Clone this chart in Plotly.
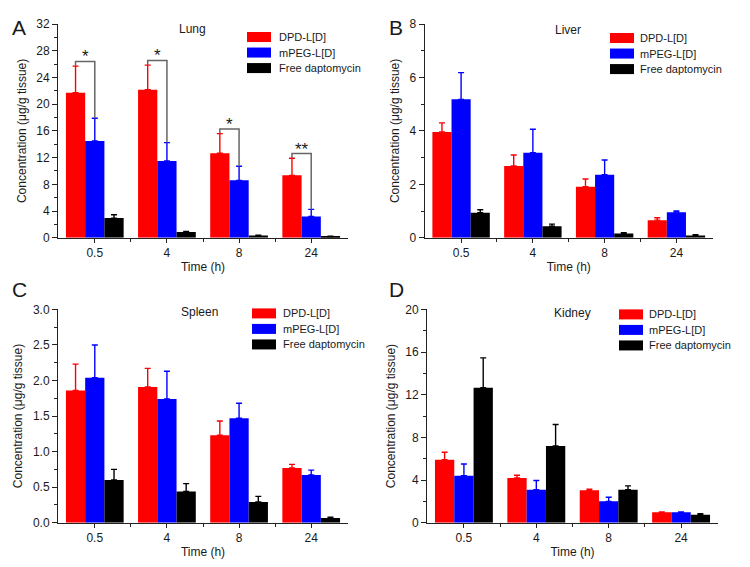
import plotly.graph_objects as go

# ---------------- data ----------------
times = ["0.5", "4", "8", "24"]
series_names = ["DPD-L[D]", "mPEG-L[D]", "Free daptomycin"]
series_colors = ["#ff0000", "#0000ff", "#000000"]

lung_dpd = [21.7, 22.15, 12.65, 9.35]
lung_dpd_err = [4.0, 3.7, 2.95, 2.55]
lung_mpeg = [14.5, 11.5, 8.6, 3.2]
lung_mpeg_err = [3.4, 2.75, 2.1, 1.05]
lung_free = [2.95, 0.85, 0.35, 0.2]
lung_free_err = [0.5, 0.1, 0.05, 0.03]
lung_sig = ["*", "*", "*", "**"]

liver_dpd = [3.96, 2.69, 1.91, 0.66]
liver_dpd_err = [0.34, 0.41, 0.29, 0.09]
liver_mpeg = [5.18, 3.18, 2.36, 0.96]
liver_mpeg_err = [1.0, 0.88, 0.55, 0.04]
liver_free = [0.94, 0.43, 0.16, 0.09]
liver_free_err = [0.11, 0.08, 0.03, 0.03]

spleen_dpd = [1.86, 1.91, 1.23, 0.77]
spleen_dpd_err = [0.37, 0.26, 0.2, 0.05]
spleen_mpeg = [2.04, 1.74, 1.47, 0.67]
spleen_mpeg_err = [0.46, 0.39, 0.21, 0.07]
spleen_free = [0.60, 0.44, 0.29, 0.066]
spleen_free_err = [0.15, 0.11, 0.08, 0.01]

kidney_dpd = [5.9, 4.2, 3.03, 0.97]
kidney_dpd_err = [0.7, 0.25, 0.12, 0.03]
kidney_mpeg = [4.4, 3.1, 2.0, 0.97]
kidney_mpeg_err = [1.1, 0.85, 0.38, 0.03]
kidney_free = [12.65, 7.2, 3.1, 0.75]
kidney_free_err = [2.8, 2.0, 0.35, 0.1]

# ---------------- layout helpers ----------------
# map target picture pixels to figure pixels (page margins / capture scaling)
OFFX, OFFY, SY = 8, 15, 0.974
W, H = 742, 567
FONT = "Arial, Liberation Sans, sans-serif"
TXT = "#1a1a1a"


def px(x):
    return (x - OFFX) / W


def py(y):
    return 1 - ((y - OFFY) / SY) / H


panels = [
    dict(organ="Lung", letter="A",
         vals=[lung_dpd, lung_mpeg, lung_free],
         errs=[lung_dpd_err, lung_mpeg_err, lung_free_err],
         ymax=32, dtick=4, mdtick=2, fmt="d",
         xd=(58, 348), yd=(24, 237.5), letter_xy=(19, 27), title_xy=(192, 29),
         leg=(247, 37, 277), sig=lung_sig),
    dict(organ="Liver", letter="B",
         vals=[liver_dpd, liver_mpeg, liver_free],
         errs=[liver_dpd_err, liver_mpeg_err, liver_free_err],
         ymax=8, dtick=2, mdtick=1, fmt="d",
         xd=(424.5, 713), yd=(24, 237.5), letter_xy=(396, 27), title_xy=(568, 30),
         leg=(610, 38, 638), sig=None),
    dict(organ="Spleen", letter="C",
         vals=[spleen_dpd, spleen_mpeg, spleen_free],
         errs=[spleen_dpd_err, spleen_mpeg_err, spleen_free_err],
         ymax=3, dtick=0.5, mdtick=0.25, fmt=".1f",
         xd=(58, 348), yd=(309, 522), letter_xy=(19, 289), title_xy=(199, 312),
         leg=(252, 313, 281), sig=None),
    dict(organ="Kidney", letter="D",
         vals=[kidney_dpd, kidney_mpeg, kidney_free],
         errs=[kidney_dpd_err, kidney_mpeg_err, kidney_free_err],
         ymax=20, dtick=4, mdtick=2, fmt="d",
         xd=(427, 718), yd=(309, 522), letter_xy=(396, 289), title_xy=(572, 313),
         leg=(619, 314, 647), sig=None),
]

fig = go.Figure()
shapes = []
annotations = []
xpos = list(range(len(times)))
BARGAP = 0.2
bw = (1 - BARGAP) / len(series_names)

for k, p in enumerate(panels):
    sfx = "" if k == 0 else str(k + 1)
    xa, ya = "x" + sfx, "y" + sfx
    for s, name in enumerate(series_names):
        fig.add_trace(go.Bar(
            x=xpos, y=p["vals"][s], name=name,
            marker=dict(color=series_colors[s], line=dict(width=0)),
            error_y=dict(type="data", array=p["errs"][s], symmetric=False,
                         arrayminus=[0] * len(times), color=series_colors[s],
                         thickness=1.4, width=3),
            xaxis=xa, yaxis=ya, showlegend=False,
        ))
    axis_common = dict(showline=True, linecolor="#222", linewidth=1, mirror=False,
                       showgrid=False, zeroline=False, ticks="outside",
                       tickcolor="#222", tickwidth=1,
                       tickfont=dict(family=FONT, size=12, color=TXT))
    fig.update_layout(**{
        "xaxis" + sfx: dict(axis_common,
                            domain=[px(p["xd"][0]), px(p["xd"][1])],
                            anchor=ya, range=[-0.51, len(times) - 0.49],
                            tickmode="array", tickvals=xpos, ticktext=times, ticklen=4,
                            minor=dict(tickmode="array",
                                       tickvals=[i + 0.5 for i in xpos[:-1]],
                                       ticklen=3, ticks="outside", tickcolor="#222"),
                            title=dict(text="Time (h)", standoff=3,
                                       font=dict(family=FONT, size=12, color=TXT))),
        "yaxis" + sfx: dict(axis_common,
                            domain=[py(p["yd"][1]), py(p["yd"][0])],
                            anchor=xa, range=[0, p["ymax"]],
                            dtick=p["dtick"], tick0=0, tickformat=p["fmt"], ticklen=5,
                            minor=dict(dtick=p["mdtick"], ticklen=3, ticks="outside",
                                       tickcolor="#222"),
                            title=dict(text="Concentration (μg/g tissue)", standoff=7,
                                       font=dict(family=FONT, size=12, color=TXT))),
    })
    # panel letter and organ title
    annotations.append(dict(text=p["letter"], x=px(p["letter_xy"][0]), y=py(p["letter_xy"][1]),
                            xref="paper", yref="paper", showarrow=False,
                            xanchor="center", yanchor="middle",
                            font=dict(family=FONT, size=21, color=TXT)))
    annotations.append(dict(text=p["organ"], x=px(p["title_xy"][0]), y=py(p["title_xy"][1]),
                            xref="paper", yref="paper", showarrow=False,
                            xanchor="center", yanchor="middle",
                            font=dict(family=FONT, size=12, color=TXT)))
    # manual legend
    lx, ly, tx = p["leg"]
    for s, name in enumerate(series_names):
        yc = ly + s * 15.5
        shapes.append(dict(type="rect", xref="paper", yref="paper",
                           x0=px(lx), x1=px(lx + 24), y0=py(yc + 5), y1=py(yc - 5),
                           fillcolor=series_colors[s], line=dict(width=0)))
        annotations.append(dict(text=name, x=px(tx), y=py(yc), xref="paper", yref="paper",
                                showarrow=False, xanchor="left", yanchor="middle",
                                font=dict(family=FONT, size=11, color=TXT)))
    # significance brackets
    if p["sig"]:
        d, m = p["vals"][0], p["vals"][1]
        de, me = p["errs"][0], p["errs"][1]
        for i, mark in enumerate(p["sig"]):
            red_top = d[i] + de[i]
            blue_top = m[i] + me[i]
            h = max(red_top, blue_top) + 0.7
            xr = xpos[i] - bw
            xb = xpos[i]
            shapes.append(dict(type="path", xref=xa, yref=ya,
                               path=f"M {xr},{red_top} L {xr},{h} L {xb},{h} L {xb},{blue_top}",
                               line=dict(color="#666666", width=1.5)))
            annotations.append(dict(text=mark, x=(xr + xb) / 2, y=h, xref=xa, yref=ya,
                                    showarrow=False, xanchor="center", yanchor="bottom",
                                    yshift=-7,
                                    font=dict(family=FONT, size=17, color=TXT)))

fig.update_layout(
    width=W, height=H,
    margin=dict(l=0, r=0, t=0, b=0),
    paper_bgcolor="white", plot_bgcolor="white",
    barmode="group", bargap=BARGAP, bargroupgap=0,
    shapes=shapes, annotations=annotations,
    font=dict(family=FONT, color=TXT),
)

fig.write_html("out.html")
